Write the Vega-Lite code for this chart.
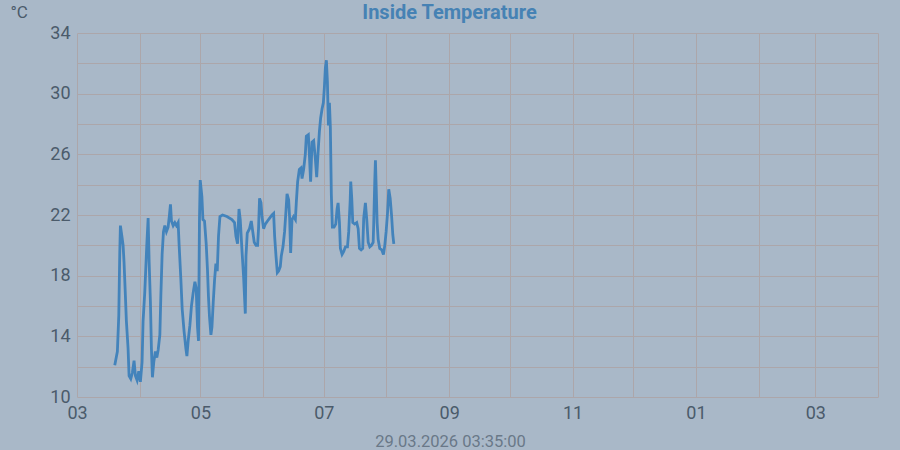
{
  "$schema": "https://vega.github.io/schema/vega-lite/v6.json",
  "width": 801,
  "height": 364,
  "autosize": "none",
  "padding": {"left": 77, "top": 33, "right": 22, "bottom": 53},
  "background": "#a9b8c8",
  "config": {
    "view": {"stroke": null},
    "font": "Roboto"
  },
  "title": {
    "text": "Inside Temperature",
    "anchor": "middle",
    "frame": "group",
    "dx": -28,
    "dy": 39.5,
    "baseline": "alphabetic",
    "fontSize": 20,
    "fontWeight": "bold",
    "color": "#4682b4",
    "font": "Roboto"
  },
  "data": {
    "values": [
      {"time": "2025-03-19T16:00:00Z", "temp": 12.1},
      {"time": "2025-03-20T23:00:00Z", "temp": 13.0},
      {"time": "2025-03-21T16:00:00Z", "temp": 15.4},
      {"time": "2025-03-22T03:00:00Z", "temp": 19.4},
      {"time": "2025-03-22T11:00:00Z", "temp": 21.3},
      {"time": "2025-03-23T07:00:00Z", "temp": 20.5},
      {"time": "2025-03-23T19:00:00Z", "temp": 20.0},
      {"time": "2025-03-24T06:00:00Z", "temp": 18.9},
      {"time": "2025-03-24T22:00:00Z", "temp": 16.7},
      {"time": "2025-03-25T10:00:00Z", "temp": 15.0},
      {"time": "2025-03-26T06:00:00Z", "temp": 13.2},
      {"time": "2025-03-26T18:00:00Z", "temp": 11.4},
      {"time": "2025-03-27T14:00:00Z", "temp": 11.2},
      {"time": "2025-03-28T09:00:00Z", "temp": 11.6},
      {"time": "2025-03-29T05:00:00Z", "temp": 12.4},
      {"time": "2025-03-29T21:00:00Z", "temp": 11.4},
      {"time": "2025-03-30T17:00:00Z", "temp": 11.1},
      {"time": "2025-03-31T13:00:00Z", "temp": 11.7},
      {"time": "2025-04-01T08:00:00Z", "temp": 11.0},
      {"time": "2025-04-02T04:00:00Z", "temp": 12.3},
      {"time": "2025-04-02T16:00:00Z", "temp": 15.0},
      {"time": "2025-04-03T12:00:00Z", "temp": 16.9},
      {"time": "2025-04-04T12:00:00Z", "temp": 20.0},
      {"time": "2025-04-05T04:00:00Z", "temp": 21.8},
      {"time": "2025-04-05T16:00:00Z", "temp": 18.9},
      {"time": "2025-04-06T07:00:00Z", "temp": 16.3},
      {"time": "2025-04-06T19:00:00Z", "temp": 13.2},
      {"time": "2025-04-07T07:00:00Z", "temp": 11.3},
      {"time": "2025-04-07T23:00:00Z", "temp": 12.3},
      {"time": "2025-04-08T18:00:00Z", "temp": 13.0},
      {"time": "2025-04-09T11:00:00Z", "temp": 12.6},
      {"time": "2025-04-10T03:00:00Z", "temp": 13.1},
      {"time": "2025-04-10T23:00:00Z", "temp": 14.1},
      {"time": "2025-04-11T11:00:00Z", "temp": 16.7},
      {"time": "2025-04-12T02:00:00Z", "temp": 19.4},
      {"time": "2025-04-12T18:00:00Z", "temp": 20.9},
      {"time": "2025-04-13T10:00:00Z", "temp": 21.3},
      {"time": "2025-04-14T05:00:00Z", "temp": 20.9},
      {"time": "2025-04-15T01:00:00Z", "temp": 21.2},
      {"time": "2025-04-15T17:00:00Z", "temp": 22.0},
      {"time": "2025-04-16T05:00:00Z", "temp": 22.7},
      {"time": "2025-04-16T17:00:00Z", "temp": 21.6},
      {"time": "2025-04-17T13:00:00Z", "temp": 21.3},
      {"time": "2025-04-18T09:00:00Z", "temp": 21.5},
      {"time": "2025-04-19T04:00:00Z", "temp": 21.3},
      {"time": "2025-04-20T00:00:00Z", "temp": 21.5},
      {"time": "2025-04-20T12:00:00Z", "temp": 20.0},
      {"time": "2025-04-21T08:00:00Z", "temp": 17.8},
      {"time": "2025-04-22T00:00:00Z", "temp": 15.8},
      {"time": "2025-04-22T23:00:00Z", "temp": 14.3},
      {"time": "2025-04-23T20:00:00Z", "temp": 13.2},
      {"time": "2025-04-24T08:00:00Z", "temp": 12.7},
      {"time": "2025-04-24T23:00:00Z", "temp": 13.7},
      {"time": "2025-04-25T19:00:00Z", "temp": 14.7},
      {"time": "2025-04-26T14:00:00Z", "temp": 16.0},
      {"time": "2025-04-27T11:00:00Z", "temp": 16.9},
      {"time": "2025-04-28T07:00:00Z", "temp": 17.6},
      {"time": "2025-04-28T22:00:00Z", "temp": 17.2},
      {"time": "2025-04-29T14:00:00Z", "temp": 14.6},
      {"time": "2025-04-30T02:00:00Z", "temp": 13.7},
      {"time": "2025-04-30T13:00:00Z", "temp": 21.7},
      {"time": "2025-04-30T22:00:00Z", "temp": 24.3},
      {"time": "2025-05-01T18:00:00Z", "temp": 23.2},
      {"time": "2025-05-02T06:00:00Z", "temp": 21.7},
      {"time": "2025-05-03T01:00:00Z", "temp": 21.6},
      {"time": "2025-05-03T21:00:00Z", "temp": 20.1},
      {"time": "2025-05-04T12:00:00Z", "temp": 18.4},
      {"time": "2025-05-05T00:00:00Z", "temp": 16.6},
      {"time": "2025-05-05T12:00:00Z", "temp": 15.3},
      {"time": "2025-05-06T05:00:00Z", "temp": 14.1},
      {"time": "2025-05-06T17:00:00Z", "temp": 14.6},
      {"time": "2025-05-07T08:00:00Z", "temp": 16.2},
      {"time": "2025-05-08T00:00:00Z", "temp": 17.7},
      {"time": "2025-05-08T16:00:00Z", "temp": 18.8},
      {"time": "2025-05-09T08:00:00Z", "temp": 18.3},
      {"time": "2025-05-09T23:00:00Z", "temp": 20.6},
      {"time": "2025-05-10T16:00:00Z", "temp": 21.9},
      {"time": "2025-05-11T23:00:00Z", "temp": 22.0},
      {"time": "2025-05-14T03:00:00Z", "temp": 21.9},
      {"time": "2025-05-16T14:00:00Z", "temp": 21.7},
      {"time": "2025-05-17T21:00:00Z", "temp": 21.5},
      {"time": "2025-05-18T14:00:00Z", "temp": 20.6},
      {"time": "2025-05-19T09:00:00Z", "temp": 20.1},
      {"time": "2025-05-20T02:00:00Z", "temp": 22.4},
      {"time": "2025-05-20T17:00:00Z", "temp": 21.7},
      {"time": "2025-05-21T13:00:00Z", "temp": 19.7},
      {"time": "2025-05-22T08:00:00Z", "temp": 18.0},
      {"time": "2025-05-23T05:00:00Z", "temp": 15.5},
      {"time": "2025-05-23T13:00:00Z", "temp": 19.3},
      {"time": "2025-05-24T04:00:00Z", "temp": 20.8},
      {"time": "2025-05-25T07:00:00Z", "temp": 21.1},
      {"time": "2025-05-26T04:00:00Z", "temp": 21.6},
      {"time": "2025-05-26T19:00:00Z", "temp": 21.0},
      {"time": "2025-05-27T15:00:00Z", "temp": 20.2},
      {"time": "2025-05-28T12:00:00Z", "temp": 20.0},
      {"time": "2025-05-29T07:00:00Z", "temp": 20.0},
      {"time": "2025-05-29T18:00:00Z", "temp": 21.1},
      {"time": "2025-05-30T06:00:00Z", "temp": 23.1},
      {"time": "2025-05-30T23:00:00Z", "temp": 22.8},
      {"time": "2025-05-31T11:00:00Z", "temp": 21.9},
      {"time": "2025-06-01T06:00:00Z", "temp": 21.1},
      {"time": "2025-06-02T02:00:00Z", "temp": 21.4},
      {"time": "2025-06-03T17:00:00Z", "temp": 21.7},
      {"time": "2025-06-05T10:00:00Z", "temp": 22.0},
      {"time": "2025-06-06T05:00:00Z", "temp": 22.1},
      {"time": "2025-06-06T17:00:00Z", "temp": 20.6},
      {"time": "2025-06-07T09:00:00Z", "temp": 19.3},
      {"time": "2025-06-08T01:00:00Z", "temp": 18.2},
      {"time": "2025-06-08T16:00:00Z", "temp": 18.3},
      {"time": "2025-06-09T12:00:00Z", "temp": 18.6},
      {"time": "2025-06-10T00:00:00Z", "temp": 19.3},
      {"time": "2025-06-10T20:00:00Z", "temp": 19.9},
      {"time": "2025-06-11T15:00:00Z", "temp": 20.9},
      {"time": "2025-06-12T08:00:00Z", "temp": 22.3},
      {"time": "2025-06-12T20:00:00Z", "temp": 23.4},
      {"time": "2025-06-13T15:00:00Z", "temp": 23.0},
      {"time": "2025-06-14T03:00:00Z", "temp": 21.8},
      {"time": "2025-06-14T15:00:00Z", "temp": 19.5},
      {"time": "2025-06-15T07:00:00Z", "temp": 21.7},
      {"time": "2025-06-16T02:00:00Z", "temp": 21.9},
      {"time": "2025-06-16T23:00:00Z", "temp": 21.7},
      {"time": "2025-06-17T11:00:00Z", "temp": 22.9},
      {"time": "2025-06-18T02:00:00Z", "temp": 24.2},
      {"time": "2025-06-18T22:00:00Z", "temp": 25.0},
      {"time": "2025-06-19T18:00:00Z", "temp": 25.1},
      {"time": "2025-06-20T06:00:00Z", "temp": 24.4},
      {"time": "2025-06-21T01:00:00Z", "temp": 25.0},
      {"time": "2025-06-21T21:00:00Z", "temp": 26.0},
      {"time": "2025-06-22T09:00:00Z", "temp": 27.2},
      {"time": "2025-06-23T09:00:00Z", "temp": 27.3},
      {"time": "2025-06-23T21:00:00Z", "temp": 26.0},
      {"time": "2025-06-24T12:00:00Z", "temp": 24.2},
      {"time": "2025-06-25T05:00:00Z", "temp": 26.8},
      {"time": "2025-06-26T00:00:00Z", "temp": 26.9},
      {"time": "2025-06-26T20:00:00Z", "temp": 25.7},
      {"time": "2025-06-27T12:00:00Z", "temp": 24.5},
      {"time": "2025-06-28T04:00:00Z", "temp": 26.1},
      {"time": "2025-06-28T20:00:00Z", "temp": 27.5},
      {"time": "2025-06-29T11:00:00Z", "temp": 28.4},
      {"time": "2025-06-30T04:00:00Z", "temp": 29.0},
      {"time": "2025-06-30T19:00:00Z", "temp": 29.4},
      {"time": "2025-07-01T07:00:00Z", "temp": 30.4},
      {"time": "2025-07-01T19:00:00Z", "temp": 31.7},
      {"time": "2025-07-02T07:00:00Z", "temp": 32.2},
      {"time": "2025-07-02T19:00:00Z", "temp": 30.8},
      {"time": "2025-07-03T07:00:00Z", "temp": 27.9},
      {"time": "2025-07-03T19:00:00Z", "temp": 29.4},
      {"time": "2025-07-04T06:00:00Z", "temp": 27.8},
      {"time": "2025-07-04T18:00:00Z", "temp": 23.3},
      {"time": "2025-07-05T06:00:00Z", "temp": 21.2},
      {"time": "2025-07-06T02:00:00Z", "temp": 21.2},
      {"time": "2025-07-06T22:00:00Z", "temp": 21.4},
      {"time": "2025-07-07T14:00:00Z", "temp": 22.4},
      {"time": "2025-07-08T02:00:00Z", "temp": 22.8},
      {"time": "2025-07-08T18:00:00Z", "temp": 21.5},
      {"time": "2025-07-09T05:00:00Z", "temp": 19.8},
      {"time": "2025-07-10T01:00:00Z", "temp": 19.4},
      {"time": "2025-07-10T21:00:00Z", "temp": 19.6},
      {"time": "2025-07-11T17:00:00Z", "temp": 19.9},
      {"time": "2025-07-12T17:00:00Z", "temp": 19.9},
      {"time": "2025-07-13T08:00:00Z", "temp": 20.9},
      {"time": "2025-07-14T01:00:00Z", "temp": 22.9},
      {"time": "2025-07-14T08:00:00Z", "temp": 24.2},
      {"time": "2025-07-14T20:00:00Z", "temp": 23.1},
      {"time": "2025-07-15T08:00:00Z", "temp": 21.5},
      {"time": "2025-07-16T07:00:00Z", "temp": 21.4},
      {"time": "2025-07-17T07:00:00Z", "temp": 21.5},
      {"time": "2025-07-18T00:00:00Z", "temp": 21.1},
      {"time": "2025-07-18T15:00:00Z", "temp": 19.8},
      {"time": "2025-07-19T11:00:00Z", "temp": 19.7},
      {"time": "2025-07-20T06:00:00Z", "temp": 19.8},
      {"time": "2025-07-20T18:00:00Z", "temp": 21.8},
      {"time": "2025-07-21T14:00:00Z", "temp": 22.8},
      {"time": "2025-07-22T06:00:00Z", "temp": 21.7},
      {"time": "2025-07-22T23:00:00Z", "temp": 20.2},
      {"time": "2025-07-23T18:00:00Z", "temp": 19.9},
      {"time": "2025-07-24T14:00:00Z", "temp": 20.0},
      {"time": "2025-07-25T10:00:00Z", "temp": 20.2},
      {"time": "2025-07-25T17:00:00Z", "temp": 21.5},
      {"time": "2025-07-26T05:00:00Z", "temp": 24.2},
      {"time": "2025-07-26T13:00:00Z", "temp": 25.6},
      {"time": "2025-07-26T22:00:00Z", "temp": 23.8},
      {"time": "2025-07-27T09:00:00Z", "temp": 21.5},
      {"time": "2025-07-27T21:00:00Z", "temp": 20.4},
      {"time": "2025-07-28T16:00:00Z", "temp": 19.8},
      {"time": "2025-07-29T16:00:00Z", "temp": 19.7},
      {"time": "2025-07-30T12:00:00Z", "temp": 19.4},
      {"time": "2025-07-31T04:00:00Z", "temp": 20.0},
      {"time": "2025-07-31T20:00:00Z", "temp": 20.9},
      {"time": "2025-08-01T12:00:00Z", "temp": 22.1},
      {"time": "2025-08-02T03:00:00Z", "temp": 23.7},
      {"time": "2025-08-02T20:00:00Z", "temp": 23.1},
      {"time": "2025-08-03T12:00:00Z", "temp": 22.0},
      {"time": "2025-08-04T03:00:00Z", "temp": 20.7},
      {"time": "2025-08-04T15:00:00Z", "temp": 20.1}
    ]
  },
  "mark": {"type": "line", "color": "#4383bb", "strokeWidth": 2.8, "interpolate": "linear"},
  "encoding": {
    "x": {
      "field": "time",
      "type": "temporal",
      "scale": {
        "type": "utc",
        "domain": [
          {"year": 2025, "month": 3, "date": 1, "utc": true},
          {"year": 2026, "month": 4, "date": 1, "utc": true}
        ]
      },
      "axis": {
        "values": [
          {"year": 2025, "month": 3, "date": 1, "utc": true},
          {"year": 2025, "month": 4, "date": 1, "utc": true},
          {"year": 2025, "month": 5, "date": 1, "utc": true},
          {"year": 2025, "month": 6, "date": 1, "utc": true},
          {"year": 2025, "month": 7, "date": 1, "utc": true},
          {"year": 2025, "month": 8, "date": 1, "utc": true},
          {"year": 2025, "month": 9, "date": 1, "utc": true},
          {"year": 2025, "month": 10, "date": 1, "utc": true},
          {"year": 2025, "month": 11, "date": 1, "utc": true},
          {"year": 2025, "month": 12, "date": 1, "utc": true},
          {"year": 2026, "month": 1, "date": 1, "utc": true},
          {"year": 2026, "month": 2, "date": 1, "utc": true},
          {"year": 2026, "month": 3, "date": 1, "utc": true},
          {"year": 2026, "month": 4, "date": 1, "utc": true}
        ],
        "labelExpr": "utcmonth(datum.value) % 2 == 0 ? utcFormat(datum.value, '%m') : ''",
        "labelFont": "Roboto",
        "labelFontSize": 18,
        "labelColor": "#4b5b6b",
        "labelPadding": 7,
        "labelFlush": false,
        "labelOverlap": false,
        "domain": false,
        "ticks": false,
        "grid": true,
        "gridColor": "#aca6aa",
        "gridOpacity": 1,
        "gridWidth": 1,
        "title": "29.03.2026 03:35:00",
        "titleFont": "Roboto",
        "titleFontSize": 16.5,
        "titleFontWeight": "normal",
        "titleColor": "#6a7888",
        "titleX": 373,
        "titleY": 44,
        "titleAlign": "center",
        "titleBaseline": "middle",
        "titleAnchor": null
      }
    },
    "y": {
      "field": "temp",
      "type": "quantitative",
      "scale": {"domain": [10, 34], "nice": false, "zero": false},
      "axis": {
        "values": [10, 12, 14, 16, 18, 20, 22, 24, 26, 28, 30, 32, 34],
        "labelExpr": "datum.value % 4 == 2 ? datum.label : ''",
        "labelFont": "Roboto",
        "labelFontSize": 18,
        "labelColor": "#4b5b6b",
        "labelPadding": 7,
        "labelFlush": false,
        "labelOverlap": false,
        "domain": false,
        "ticks": false,
        "grid": true,
        "gridColor": "#aca6aa",
        "gridOpacity": 1,
        "gridWidth": 1,
        "title": "°C",
        "titleFont": "Roboto",
        "titleFontSize": 17,
        "titleFontWeight": "normal",
        "titleColor": "#4b5b6b",
        "titleAngle": 0,
        "titleX": -67,
        "titleY": -21,
        "titleAlign": "left",
        "titleBaseline": "middle"
      }
    }
  }
}
